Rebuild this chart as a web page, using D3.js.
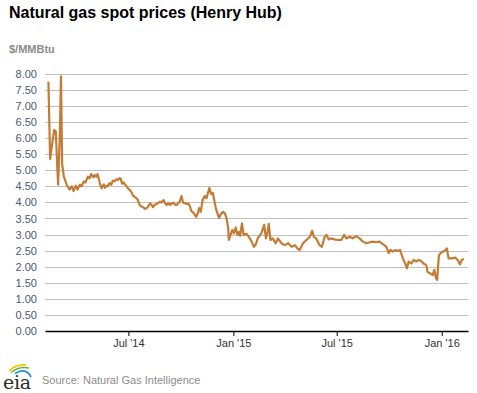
<!DOCTYPE html>
<html>
<head>
<meta charset="utf-8">
<script src="https://cdn.jsdelivr.net/npm/d3@7"></script>
<style>
  body { margin: 0; background: #fff; }
  svg { display: block; font-family: "Liberation Sans", Arial, sans-serif; }
</style>
</head>
<body>
<div id="chart"></div>
<script>
// Henry Hub spot price
const dates = [
  "2014-02-11","2014-02-14","2014-02-17","2014-02-19","2014-02-21","2014-02-24","2014-02-26","2014-02-28",
  "2014-03-03","2014-03-05","2014-03-07","2014-03-10","2014-03-12","2014-03-15","2014-03-20","2014-03-24",
  "2014-03-27","2014-03-31","2014-04-03","2014-04-07","2014-04-10","2014-04-14","2014-04-17","2014-04-21",
  "2014-04-24","2014-04-27","2014-05-01","2014-05-03","2014-05-06","2014-05-08","2014-05-10","2014-05-12",
  "2014-05-15","2014-05-17","2014-05-19","2014-05-21","2014-05-24","2014-05-26","2014-05-29","2014-06-01",
  "2014-06-04","2014-06-07","2014-06-10","2014-06-13","2014-06-16","2014-06-18","2014-06-20","2014-06-23",
  "2014-06-25","2014-06-28","2014-07-01","2014-07-04","2014-07-07","2014-07-09","2014-07-12","2014-07-17",
  "2014-07-19","2014-07-21","2014-07-24","2014-07-27","2014-07-30","2014-08-02","2014-08-05","2014-08-08",
  "2014-08-11","2014-08-13","2014-08-16","2014-08-19","2014-08-22","2014-08-25","2014-08-28","2014-09-01",
  "2014-09-03","2014-09-06","2014-09-09","2014-09-12","2014-09-15","2014-09-18","2014-09-21","2014-09-24",
  "2014-09-26","2014-09-29","2014-10-02","2014-10-05","2014-10-08","2014-10-11","2014-10-14","2014-10-17",
  "2014-10-19","2014-10-22","2014-10-24","2014-10-26","2014-10-28","2014-10-31","2014-11-02","2014-11-05",
  "2014-11-08","2014-11-12","2014-11-15","2014-11-18","2014-11-20","2014-11-21","2014-11-23","2014-11-26",
  "2014-11-29","2014-12-01","2014-12-03","2014-12-07","2014-12-09","2014-12-11","2014-12-14","2014-12-17",
  "2014-12-20","2014-12-23","2014-12-24","2014-12-27","2014-12-30","2015-01-02","2015-01-05","2015-01-08",
  "2015-01-11","2015-01-13","2015-01-16","2015-01-19","2015-01-24","2015-01-28","2015-02-02","2015-02-06",
  "2015-02-09","2015-02-13","2015-02-16","2015-02-19","2015-02-24","2015-02-27","2015-03-02","2015-03-04",
  "2015-03-07","2015-03-11","2015-03-16","2015-03-20","2015-03-26","2015-04-01","2015-04-07","2015-04-13",
  "2015-04-19","2015-04-23","2015-04-27","2015-05-03","2015-05-09","2015-05-15","2015-05-19","2015-05-22",
  "2015-05-26","2015-06-01","2015-06-05","2015-06-10","2015-06-13","2015-06-17","2015-06-21","2015-06-27",
  "2015-07-03","2015-07-09","2015-07-14","2015-07-18","2015-07-24","2015-07-29","2015-08-04","2015-08-10",
  "2015-08-16","2015-08-22","2015-08-28","2015-09-02","2015-09-08","2015-09-14","2015-09-20","2015-09-26",
  "2015-09-30","2015-10-03","2015-10-07","2015-10-12","2015-10-16","2015-10-20","2015-10-25","2015-10-30",
  "2015-11-01","2015-11-04","2015-11-09","2015-11-13","2015-11-17","2015-11-22","2015-11-26","2015-11-30",
  "2015-12-05","2015-12-07","2015-12-12","2015-12-16","2015-12-19","2015-12-22","2015-12-24","2015-12-27",
  "2015-12-30","2016-01-03","2016-01-08","2016-01-10","2016-01-13","2016-01-19","2016-01-25","2016-01-29",
  "2016-02-02","2016-02-05","2016-02-09"
];
const prices = [
  7.75,5.35,5.75,6.00,6.25,6.20,5.30,4.55,
  6.10,7.92,5.20,4.80,4.70,4.55,4.40,4.50,
  4.35,4.52,4.40,4.55,4.50,4.65,4.62,4.80,
  4.75,4.88,4.78,4.85,4.80,4.88,4.75,4.60,
  4.44,4.50,4.56,4.45,4.52,4.50,4.60,4.55,
  4.68,4.66,4.72,4.70,4.76,4.72,4.58,4.62,
  4.56,4.50,4.42,4.38,4.30,4.22,4.17,4.10,
  4.00,3.92,3.87,3.85,3.80,3.82,3.88,3.97,
  3.92,3.85,3.92,3.95,3.98,4.02,4.00,4.07,
  3.98,3.92,3.98,3.92,3.97,3.99,3.93,3.92,
  3.97,4.02,4.20,3.99,3.98,3.95,3.96,3.88,
  3.74,3.70,3.65,3.60,3.55,3.68,3.82,3.71,
  4.07,4.20,4.13,4.33,4.45,4.38,4.26,4.30,
  4.02,3.85,3.71,3.51,3.60,3.66,3.71,3.66,
  3.51,3.19,2.83,2.99,3.14,3.04,3.22,2.99,
  3.09,2.96,3.35,2.99,3.02,2.93,2.78,2.62,
  2.68,2.90,2.96,3.04,3.30,2.88,3.09,3.33,
  2.83,2.88,2.73,2.88,2.73,2.67,2.73,2.62,
  2.67,2.57,2.52,2.73,2.83,2.93,3.12,2.93,
  2.88,2.67,2.62,2.93,2.99,2.85,2.88,2.85,
  2.83,2.83,2.99,2.88,2.93,2.88,2.95,2.88,
  2.78,2.73,2.76,2.78,2.76,2.78,2.70,2.62,
  2.42,2.52,2.47,2.52,2.49,2.52,2.26,2.05,
  1.95,2.16,2.10,2.21,2.16,2.21,2.18,2.10,
  2.05,1.84,1.79,1.74,1.90,1.64,1.59,2.36,
  2.42,2.47,2.52,2.57,2.26,2.26,2.28,2.21,
  2.07,2.21,2.24
];
const yTicks = [0, 0.5, 1, 1.5, 2, 2.5, 3, 3.5, 4, 4.5, 5, 5.5, 6, 6.5, 7, 7.5, 8];
const xTicks = ["2014-07-01", "2015-01-01", "2015-07-01", "2016-01-01"];
const xDomain = ["2014-02-05", "2016-02-16"];

const width = 477, height = 393;
const margin = {top: 73.8, right: 9, bottom: 62, left: 45};
const parse = d3.timeParse("%Y-%m-%d");

const data = dates.map((d, i) => ({date: parse(d), price: prices[i]}));

const svg = d3.select("#chart")
  .append("svg")
  .attr("width", width)
  .attr("height", height);

const x = d3.scaleTime()
  .domain(xDomain.map(parse))
  .range([margin.left, width - margin.right]);

const y = d3.scaleLinear()
  .domain([0, 8])
  .range([height - margin.bottom, margin.top]);

// title + unit
svg.append("text")
  .attr("x", 9).attr("y", 18)
  .attr("font-size", 16).attr("font-weight", "bold")
  .attr("fill", "#000")
  .text("Natural gas spot prices (Henry Hub)");

svg.append("text")
  .attr("x", 9).attr("y", 53)
  .attr("font-size", 11).attr("font-weight", "bold")
  .attr("fill", "#8c8c8c")
  .text("$/MMBtu");

// gridlines
svg.append("g")
  .selectAll("line")
  .data(yTicks.filter(t => t > 0))
  .enter()
  .append("line")
    .attr("x1", margin.left)
    .attr("x2", width - margin.right)
    .attr("y1", d => Math.round(y(d)) + 0.5)
    .attr("y2", d => Math.round(y(d)) + 0.5)
    .attr("stroke", "#c0c0c0")
    .attr("stroke-width", 1);

// y axis labels
const yAxis = svg.append("g")
  .attr("transform", `translate(${margin.left}, 0)`)
  .call(d3.axisLeft(y).tickValues(yTicks).tickFormat(d3.format(".2f")).tickSize(0).tickPadding(8));
yAxis.select(".domain").remove();
yAxis.selectAll("text")
  .attr("font-size", 11)
  .attr("font-family", "Liberation Sans, Arial, sans-serif")
  .attr("fill", "#4a5a70");

// x axis
const xAxis = svg.append("g")
  .attr("transform", `translate(0, ${Math.round(y(0))})`)
  .call(d3.axisBottom(x)
    .tickValues(xTicks.map(parse))
    .tickFormat(d3.timeFormat("%b '%y"))
    .tickSizeOuter(0)
    .tickSizeInner(5)
    .tickPadding(3));
xAxis.select(".domain").attr("stroke", "#000").attr("stroke-width", 1.5);
xAxis.selectAll(".tick line").attr("stroke", "#000").attr("stroke-width", 1);
xAxis.selectAll("text")
  .attr("font-size", 11)
  .attr("font-family", "Liberation Sans, Arial, sans-serif")
  .attr("fill", "#333");

// price line
const line = d3.line()
  .x(d => x(d.date))
  .y(d => y(d.price));

svg.append("path")
  .datum(data)
  .attr("d", line)
  .attr("fill", "none")
  .attr("stroke", "#c47c34")
  .attr("stroke-width", 2.2)
  .attr("stroke-linejoin", "round");

// footer: eia logo + source
const logo = svg.append("g").attr("fill", "none");
logo.append("path")
  .attr("d", "M9,371 Q16,364 26,365")
  .attr("stroke", "#f2c300").attr("stroke-width", 1.5);
logo.append("path")
  .attr("d", "M11,372.5 Q19,366 29,368")
  .attr("stroke", "#6ab43e").attr("stroke-width", 1.5);
logo.append("path")
  .attr("d", "M15,373.5 Q26,367 31,377")
  .attr("stroke", "#1f8fd0").attr("stroke-width", 1.7);
logo.append("text")
  .attr("x", 3).attr("y", 389)
  .attr("font-size", 19)
  .attr("font-family", "DejaVu Serif, serif")
  .attr("fill", "#2b2b2b")
  .attr("textLength", 28)
  .text("eia");

svg.append("text")
  .attr("x", 42).attr("y", 384)
  .attr("font-size", 11)
  .attr("fill", "#8c8c8c")
  .text("Source: Natural Gas Intelligence");
</script>
</body>
</html>
